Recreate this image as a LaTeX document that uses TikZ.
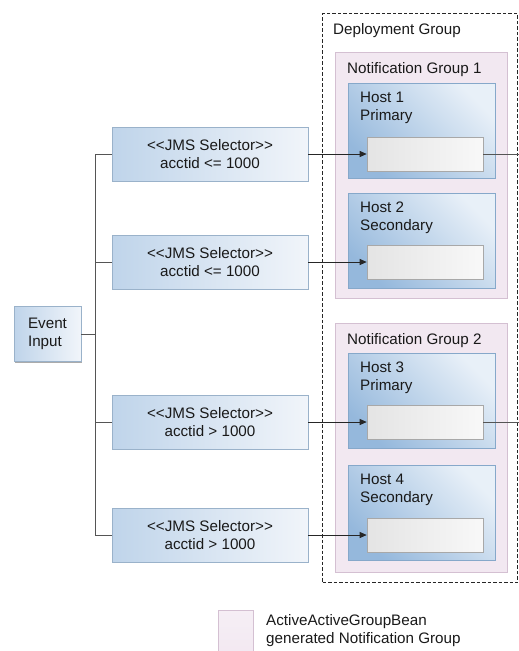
\documentclass[tikz,border=0pt]{standalone}
\usepackage{fontspec}
\setmainfont{Liberation Sans}
\usetikzlibrary{shadows,arrows.meta}
\definecolor{selL}{HTML}{BFD4EA}
\definecolor{selR}{HTML}{F1F5FA}
\definecolor{selB}{HTML}{9AB2CA}
\definecolor{hostD}{HTML}{95B8DC}
\definecolor{hostL}{HTML}{E8F0F8}
\definecolor{hostB}{HTML}{86A8CA}
\definecolor{grpF}{HTML}{F2E8F1}
\definecolor{grpB}{HTML}{D4C0D2}
\definecolor{inD}{HTML}{E4E4E4}
\definecolor{inL}{HTML}{F8F8F8}
\definecolor{inB}{HTML}{A8A8A8}
\definecolor{lineC}{HTML}{555555}
\tikzset{
  x=1pt, y=-1pt,
  every node/.style={font=\fontsize{15.2}{18}\selectfont, text=black!90},
  myshadow/.style={drop shadow={shadow xshift=0.9pt,shadow yshift=-1pt,fill=black!60,opacity=.55}},
  selbox/.style={rectangle, draw=selB, line width=0.6pt, left color=selL, right color=selR,
    minimum width=196pt, minimum height=54pt, inner sep=0pt, align=center, myshadow},
  evbox/.style={rectangle, draw=selB, line width=0.6pt, left color=selL, right color=selR,
    minimum width=67pt, minimum height=55pt, inner sep=0pt, align=left, myshadow},
  hostbox/.style={rectangle, draw=hostB, line width=0.6pt, left color=hostD, right color=hostL,
    shading angle=135, minimum width=147pt, minimum height=95pt, inner sep=0pt, anchor=north west, myshadow},
  innerbox/.style={rectangle, draw=inB, line width=0.6pt, left color=inD, right color=inL,
    minimum width=116pt, minimum height=34pt, inner sep=0pt, myshadow},
  grpbox/.style={rectangle, draw=grpB, line width=0.8pt, fill=grpF, anchor=north west,
    minimum width=172pt, inner sep=0pt},
  lbl/.style={anchor=north west, inner sep=0pt, align=left},
  conn/.style={draw=lineC, line width=0.8pt},
  arr/.style={draw=black!85, line width=0.8pt, -{Triangle[length=7pt,width=6pt]}},
}
\begin{document}
\begin{tikzpicture}
\useasboundingbox (0,0) rectangle (519,651);
% deployment group
\node[draw=black!85, dash pattern=on 3.5pt off 2pt, line width=1pt, rectangle, anchor=north west,
  minimum width=195pt, minimum height=569pt, inner sep=0pt] (dep) at (322,13) {};
\node[lbl] (depl) at (333,23) {Deployment Group};
% notification groups
\node[grpbox, minimum height=246pt] (ng1) at (335,52) {};
\node[lbl] (ng1l) at (347,62) {Notification Group 1};
\node[grpbox, minimum height=249pt] (ng2) at (335,323) {};
\node[lbl] (ng2l) at (347,333) {Notification Group 2};
% hosts
\node[hostbox] (h1) at (348,83) {};
\node[lbl] (h1l) at (360,92) {Host 1\\Primary};
\node[innerbox] (b1) at (425,154) {};
\node[hostbox] (h2) at (348,193) {};
\node[lbl] (h2l) at (360,202) {Host 2\\Secondary};
\node[innerbox] (b2) at (425,262) {};
\node[hostbox] (h3) at (348,353) {};
\node[lbl] (h3l) at (360,362) {Host 3\\Primary};
\node[innerbox] (b3) at (425,422) {};
\node[hostbox] (h4) at (348,465) {};
\node[lbl] (h4l) at (360,474) {Host 4\\Secondary};
\node[innerbox] (b4) at (425,535) {};
% selectors
\node[selbox] (s1) at (210,154) {<{}<JMS Selector>{}>\\acctid <= 1000};
\node[selbox] (s2) at (210,262) {<{}<JMS Selector>{}>\\acctid <= 1000};
\node[selbox] (s3) at (210,422) {<{}<JMS Selector>{}>\\acctid > 1000};
\node[selbox] (s4) at (210,535) {<{}<JMS Selector>{}>\\acctid > 1000};
% event input
\node[evbox] (ev) at (47.5,334) {Event\\Input};
% trunk
\coordinate (t1) at (95,154);
\coordinate (t4) at (95,535);
\draw[conn] (t1) -- (t4);
\draw[conn] (ev.east) -- (ev.east -| t1);
\draw[conn] (s1.west) -- (s1.west -| t1);
\draw[conn] (s2.west) -- (s2.west -| t1);
\draw[conn] (s3.west) -- (s3.west -| t1);
\draw[conn] (s4.west) -- (s4.west -| t1);
% arrows into hosts
\draw[arr] (s1.east) -- (b1.west);
\draw[arr] (s2.east) -- (b2.west);
\draw[arr] (s3.east) -- (b3.west);
\draw[arr] (s4.east) -- (b4.west);
% outgoing
\coordinate (o1) at (519,154);
\coordinate (o3) at (519,422);
\draw[conn] (b1.east) -- (o1);
\draw[conn] (b3.east) -- (o3);
% legend
\node[rectangle, draw=grpB, line width=0.8pt, top color=grpF!70!white, bottom color=grpF, anchor=north west,
  minimum width=35pt, minimum height=45pt, inner sep=0pt] (leg) at (218,610) {};
\node[lbl] (legl) at (266,614) {ActiveActiveGroupBean\\generated Notification Group};
\end{tikzpicture}
\end{document}
